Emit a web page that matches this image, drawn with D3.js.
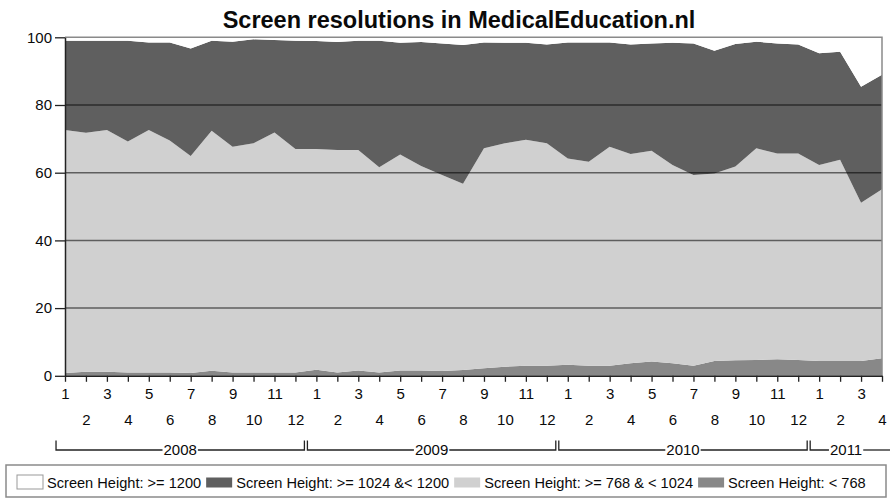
<!DOCTYPE html>
<html>
<head>
<meta charset="utf-8">
<script src="https://cdn.jsdelivr.net/npm/d3@7"></script>
<style>
  html, body { margin: 0; padding: 0; background: #fff; }
  svg { display: block; font-family: Arial, "Liberation Sans", sans-serif; }
</style>
</head>
<body>
<svg id="chart" width="890" height="498"></svg>
<script>
// ---- data ----
const title = "Screen resolutions in MedicalEducation.nl";
const months = ["1","2","3","4","5","6","7","8","9","10","11","12",
                "1","2","3","4","5","6","7","8","9","10","11","12",
                "1","2","3","4","5","6","7","8","9","10","11","12",
                "1","2","3","4"];
const years = ["2008", "2009", "2010", "2011"];
const yearMonthCounts = [12, 12, 12, 4];
const seriesNames = ["Screen Height: >= 1200", "Screen Height: >= 1024 &< 1200",
                     "Screen Height: >= 768 & < 1024", "Screen Height: < 768"];
// values in percent, per month
const below768 = [0.8,1.2,1.2,1.0,1.0,1.0,0.8,1.5,1.0,1.0,1.0,1.0,
                  1.8,1.0,1.6,1.0,1.6,1.6,1.4,1.7,2.2,2.7,3.0,3.0,
                  3.3,3.0,3.0,3.7,4.2,3.7,3.0,4.4,4.6,4.7,4.9,4.7,
                  4.4,4.4,4.4,5.2];
const from768to1024 = [71.8,70.6,71.4,68.2,71.6,68.5,64.1,70.9,66.7,67.7,70.9,66.0,
                       65.2,65.7,65.1,60.6,63.8,60.4,57.9,55.0,65.0,66.0,66.7,65.7,
                       60.9,60.2,64.7,61.8,62.3,58.6,56.3,55.4,57.2,62.5,60.8,61.0,
                       57.9,59.4,46.7,49.9];
const from1024to1200 = [26.4,27.2,26.4,29.8,25.9,29.0,31.8,26.6,31.0,30.7,27.3,32.0,
                        31.9,31.9,32.3,37.4,33.0,36.6,38.9,41.0,31.3,29.7,28.7,29.2,
                        34.3,35.3,30.8,32.4,31.7,36.1,38.9,36.2,36.2,31.5,32.5,32.2,
                        33.0,31.9,34.3,33.8];
const above1200 = [1.0,1.0,1.0,1.0,1.5,1.5,3.3,1.0,1.3,0.6,0.8,1.0,
                   1.1,1.4,1.0,1.0,1.6,1.4,1.8,2.3,1.5,1.6,1.6,2.1,
                   1.5,1.5,1.5,2.1,1.8,1.6,1.8,4.0,2.0,1.3,1.8,2.1,
                   4.7,4.3,14.6,11.1];
const yTicks = [0, 20, 40, 60, 80, 100];

// ---- build table ----
const keys = ["lt768", "h768", "h1024", "h1200"];
const table = months.map((m, i) => ({
  i: i,
  lt768: below768[i],
  h768: from768to1024[i],
  h1024: from1024to1200[i],
  h1200: above1200[i]
}));
const fills = { h1200: "#ffffff", h1024: "#5f5f5f", h768: "#d0d0d0", lt768: "#888888" };
const legendKeys = ["h1200", "h1024", "h768", "lt768"];
const FS = "15px";
const LFS = "14.6px";
const TXT = "#0a0a0a";

const svg = d3.select("#chart");
const L = 65, R = 882, T = 37.3, B = 375.8;

const x = d3.scalePoint().domain(d3.range(months.length)).range([L, R]);
const y = d3.scaleLinear().domain([0, 100]).range([B, T]);
const step = x.step();

// plot background
svg.append("rect").attr("x", L).attr("y", T).attr("width", R - L).attr("height", B - T).attr("fill", "#fff");

// areas
const stacked = d3.stack().keys(keys)(table);
const area = d3.area()
  .x(d => x(d.data.i))
  .y0(d => y(d[0]))
  .y1(d => y(Math.min(100, d[1])));
svg.append("g").selectAll("path").data(stacked).join("path")
  .attr("d", area)
  .attr("fill", d => fills[d.key]);

// gridlines
svg.append("g").selectAll("line").data(yTicks.filter(t => t > 0 && t < 100)).join("line")
  .attr("x1", L).attr("x2", R)
  .attr("y1", d => y(d)).attr("y2", d => y(d))
  .attr("stroke", "#000").attr("stroke-opacity", 0.55).attr("stroke-width", 1.5);

// top & right border
svg.append("path")
  .attr("d", `M${L},${T}H${R}V${B}`)
  .attr("fill", "none").attr("stroke", "#8a8a8a").attr("stroke-width", 1.5);

// y axis
const yAxis = svg.append("g").attr("transform", `translate(${L},0)`)
  .call(d3.axisLeft(y).tickValues(yTicks).tickSize(10).tickSizeOuter(0).tickPadding(3));
yAxis.select(".domain").attr("stroke", "#222").attr("stroke-width", 1.5);
yAxis.selectAll(".tick line").attr("stroke", "#222").attr("stroke-width", 1.3);
yAxis.selectAll(".tick text").attr("font-size", FS).attr("fill", TXT)
  .attr("font-family", "Arial, 'Liberation Sans', sans-serif");

// x axis
const xAxis = svg.append("g").attr("transform", `translate(0,${B})`)
  .call(d3.axisBottom(x).tickSize(6).tickSizeOuter(0).tickFormat(i => months[i]));
xAxis.select(".domain").attr("stroke", "#222").attr("stroke-width", 1.5);
xAxis.selectAll(".tick line").attr("stroke", "#222").attr("stroke-width", 1.3);
xAxis.selectAll(".tick text")
  .attr("font-size", FS).attr("fill", TXT)
  .attr("font-family", "Arial, 'Liberation Sans', sans-serif")
  .attr("y", d => (d % 2 === 0 ? 13 : 39))
  .attr("dy", "0.71em");

// year brackets
const yb = svg.append("g");
const bracketY = 450, bracketTop = 440.5;
let startIdx = 0;
years.forEach((yr, k) => {
  const n = yearMonthCounts[k];
  const x0 = x(startIdx) - step / 2 + 1.5;
  let x1 = x(startIdx + n - 1) + step / 2 - 1.5;
  const isLast = k === years.length - 1;
  if (isLast) x1 = 892;
  const cx = isLast ? (x0 + 886) / 2 - 2 : (x0 + x1) / 2;
  const txt = yb.append("text").attr("x", cx).attr("y", bracketY).attr("dy", "0.35em")
    .attr("text-anchor", "middle").attr("font-size", FS).attr("fill", TXT).text(yr);
  const w = txt.node().getComputedTextLength();
  const gap = 1;
  yb.append("path")
    .attr("d", `M${x0},${bracketTop}V${bracketY}H${cx - w / 2 - gap}`)
    .attr("fill", "none").attr("stroke", "#222").attr("stroke-width", 1.3);
  yb.append("path")
    .attr("d", isLast ? `M${cx + w / 2 + gap},${bracketY}H${x1}`
                      : `M${cx + w / 2 + gap},${bracketY}H${x1}V${bracketTop}`)
    .attr("fill", "none").attr("stroke", "#222").attr("stroke-width", 1.3);
  startIdx += n;
});

// title
svg.append("text").attr("x", 459).attr("y", 28).attr("text-anchor", "middle")
  .attr("font-size", "23.5px").attr("font-weight", "bold").attr("fill", TXT).text(title);

// legend
svg.append("rect").attr("x", 6).attr("y", 465).attr("width", 880).attr("height", 32)
  .attr("fill", "#fff").attr("stroke", "#8a8a8a").attr("stroke-width", 1.5);
const lg = svg.append("g");
let lx = 17;
legendKeys.forEach((k, j) => {
  const isWhite = k === "h1200";
  lg.append("rect")
    .attr("x", lx).attr("y", isWhite ? 475 : 477.5)
    .attr("width", 26).attr("height", isWhite ? 14 : 10)
    .attr("fill", fills[k])
    .attr("stroke", isWhite ? "#999" : "none").attr("stroke-width", 1);
  const t = lg.append("text").attr("x", lx + 30).attr("y", 482.5).attr("dy", "0.35em")
    .attr("font-size", LFS).attr("fill", TXT).text(seriesNames[j]);
  lx += 30 + t.node().getComputedTextLength() + 5;
});
</script>
</body>
</html>
